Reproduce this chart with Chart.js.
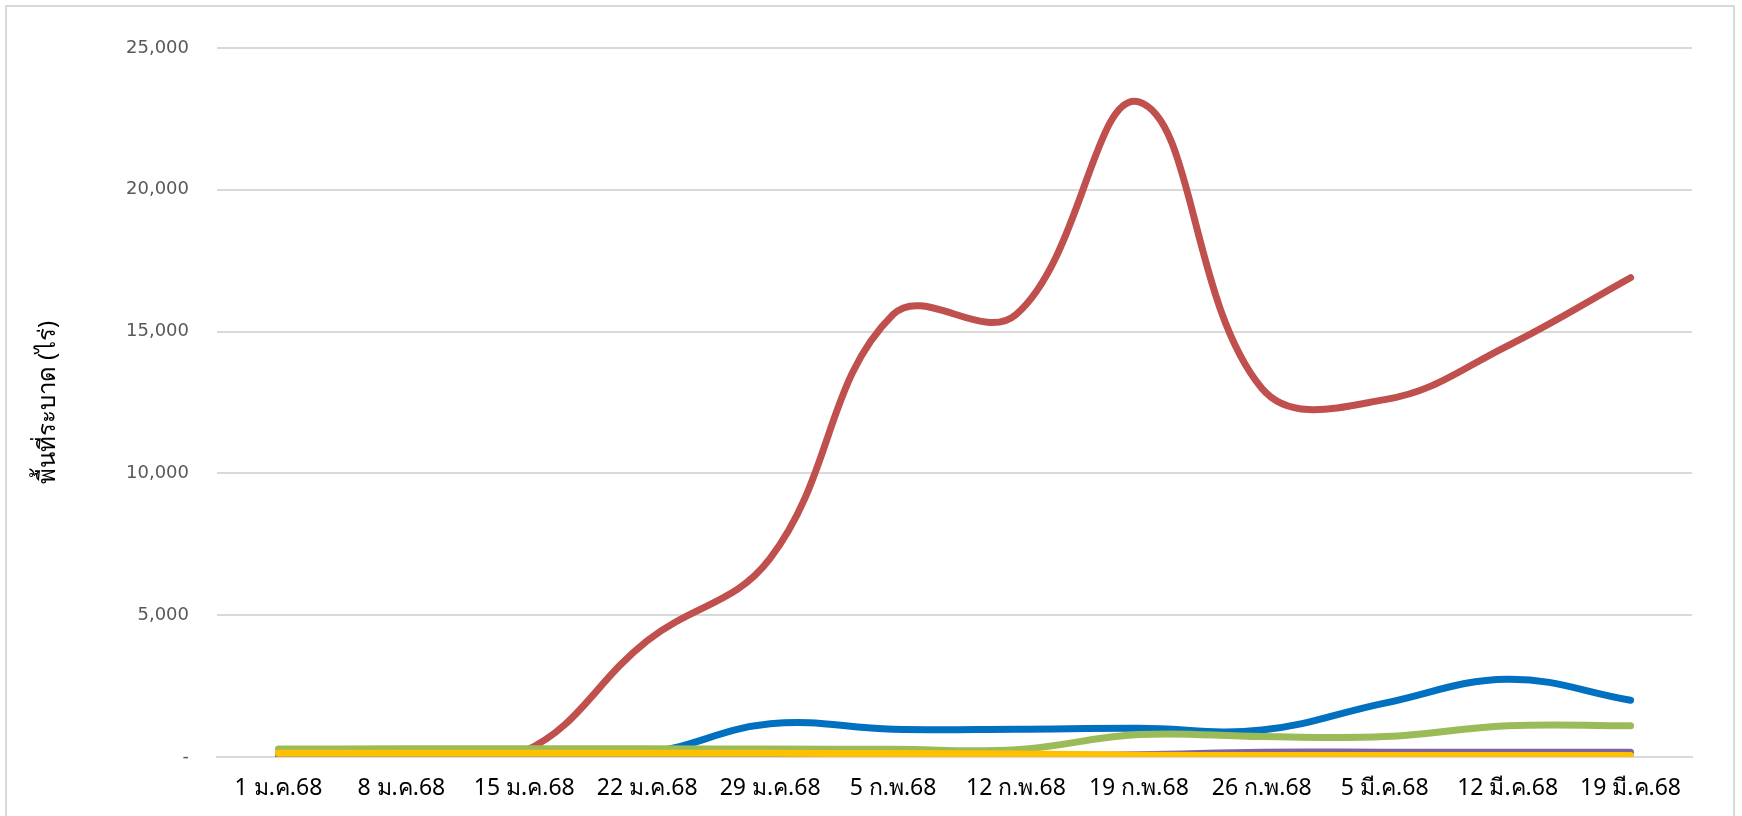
<!DOCTYPE html>
<html>
<head>
<meta charset="utf-8">
<script src="https://cdn.jsdelivr.net/npm/chart.js@4.4.1/dist/chart.umd.min.js"></script>
<style>
html,body{margin:0;padding:0;background:#fff;overflow:hidden;}
#frame{position:absolute;left:5px;top:5px;width:1730px;height:830px;border:2px solid #D9D9D9;box-sizing:border-box;}
#wrap{position:absolute;left:0;top:0;width:1742px;height:816px;}
</style>
</head>
<body>
<div id="frame"></div>
<div id="wrap"><canvas id="c"></canvas></div>
<script>
const categories = ['1 ม.ค.68','8 ม.ค.68','15 ม.ค.68','22 ม.ค.68','29 ม.ค.68','5 ก.พ.68','12 ก.พ.68','19 ก.พ.68','26 ก.พ.68','5 มี.ค.68','12 มี.ค.68','19 มี.ค.68'];
const redSeries    = [80, 100, 200, 4100, 7000, 15600, 15600, 23100, 13000, 12600, 14500, 16900];
const blueSeries   = [100, 100, 120, 150, 1170, 980, 980, 1010, 950, 1900, 2740, 2000];
const greenSeries  = [280, 290, 290, 290, 280, 270, 260, 790, 720, 720, 1100, 1100];
const purpleSeries = [60, 60, 60, 60, 60, 60, 60, 80, 170, 170, 170, 170];
const yellowSeries = [130, 130, 130, 130, 130, 120, 110, 60, 50, 50, 50, 50];
const yTicks = [0, 5000, 10000, 15000, 20000, 25000];
const yTitle = 'พื้นที่ระบาด (ไร่)';

const thaiFont = "'Noto Sans', 'DejaVu Sans', sans-serif";

function ds(label, data, color, order){
  return {label, data, borderColor: color, backgroundColor: color, borderWidth: 7,
    pointRadius: 0, tension: 0.4, fill: false, order, borderCapStyle: 'round', borderJoinStyle: 'round'};
}

new Chart(document.getElementById('c'), {
  type: 'line',
  data: {
    labels: categories,
    datasets: [
      ds('แดง', redSeries, '#C0504D', 4),
      ds('น้ำเงิน', blueSeries, '#0070C0', 3),
      ds('เขียว', greenSeries, '#9BBB59', 2),
      ds('ม่วง', purpleSeries, '#8064A2', 1),
      ds('เหลือง', yellowSeries, '#FFC000', 0)
    ]
  },
  options: {
    responsive: true,
    maintainAspectRatio: false,
    animation: false,
    devicePixelRatio: 1,
    layout: {padding: {left: 30, right: 50, top: 48, bottom: 0}},
    plugins: {legend: {display: false}, tooltip: {enabled: false}},
    scales: {
      x: {
        offset: true,
        grid: {display: false, drawTicks: false},
        border: {display: true, color: '#D9D9D9', width: 2},
        ticks: {color: '#000', font: {family: thaiFont, size: 23}, padding: 18, maxRotation: 0, autoSkip: false},
        afterFit: s => { s.height = 59; }
      },
      y: {
        min: 0, max: 25000,
        afterBuildTicks: s => { s.ticks = yTicks.map(v => ({value: v})); },
        grid: {color: '#D9D9D9', lineWidth: 2, drawTicks: false},
        border: {display: false},
        ticks: {color: '#595959', font: {family: "'DejaVu Sans', sans-serif", size: 18}, padding: 28,
          callback: v => v === 0 ? '-' : v.toLocaleString('en-US')},
        title: {display: true, text: yTitle, color: '#000', font: {family: thaiFont, size: 24}, padding: {bottom: 26}},
        afterFit: s => { s.width = 187; }
      }
    }
  }
});
</script>
</body>
</html>
